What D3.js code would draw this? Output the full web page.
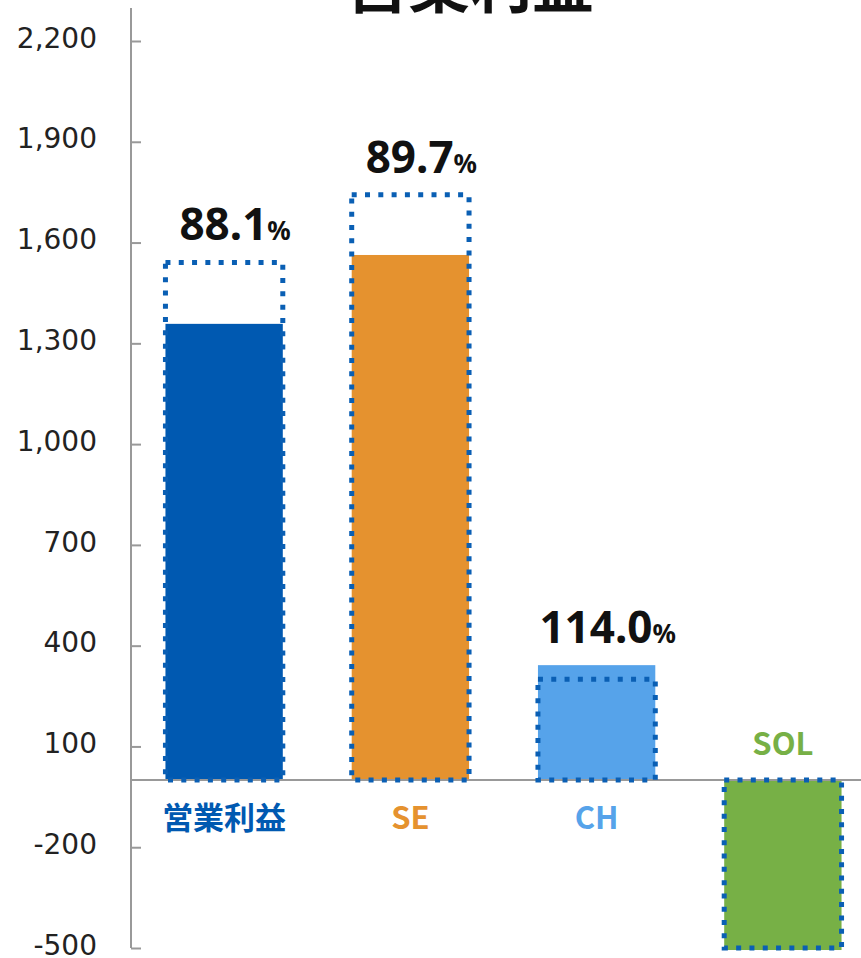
<!DOCTYPE html>
<html>
<head>
<meta charset="utf-8">
<script src="https://cdn.jsdelivr.net/npm/d3@7"></script>
<style>
  body { margin: 0; background: #fff; }
  svg { display: block; }
</style>
</head>
<body>
<div id="viz"></div>
<script>
// data
const categories = ["営業利益", "SE", "CH", "SOL"];
const actual = [1358, 1563, 342, -506];
const plan = [1541, 1742, 300, -500];
const achieve = ["88.1", "89.7", "114.0", null];
const tickValues = [2200, 1900, 1600, 1300, 1000, 700, 400, 100, -200, -500];

const colors = ["#0059b1", "#e5922f", "#56a3ea", "#77b046"];
const dotBlue = "#0a5fb4";

const W = 861, H = 958;
const axisX = 131;

const svg = d3.select("#viz")
    .append("svg")
    .attr("width", W)
    .attr("height", H);

const y = d3.scaleLinear()
    .domain([-500, 2200])
    .range([948, 41]);

const x = d3.scaleBand()
    .domain(categories)
    .range([axisX, 876])
    .paddingInner(0.37)
    .paddingOuter(0.185);

// title (cut at top)
svg.append("text")
    .attr("x", 470)
    .attr("y", 8)
    .attr("text-anchor", "middle")
    .attr("font-family", "'Noto Sans CJK JP', sans-serif")
    .attr("font-weight", 700)
    .attr("font-size", 62)
    .attr("fill", "#111")
    .text("営業利益");

// y axis
const yAxis = svg.append("g")
    .attr("transform", `translate(${axisX},0)`)
    .call(d3.axisLeft(y)
        .tickValues(tickValues)
        .tickFormat(d3.format(","))
        .tickSizeInner(-10)
        .tickSizeOuter(0)
        .tickPadding(34));

yAxis.select(".domain").remove();
yAxis.selectAll(".tick line")
    .attr("stroke", "#999")
    .attr("stroke-width", 2);
yAxis.selectAll(".tick text")
    .attr("dy", "0.22em")
    .attr("font-family", "'DejaVu Sans', sans-serif")
    .attr("font-size", 28)
    .attr("fill", "#222")
    .text(d => d < 0 ? "-" + d3.format(",")(-d) : d3.format(",")(d));

svg.append("line")
    .attr("x1", axisX).attr("x2", axisX)
    .attr("y1", 8).attr("y2", y(-500))
    .attr("stroke", "#999")
    .attr("stroke-width", 2);

// bars
const rows = categories.map((c, i) => ({
    cat: c, actual: actual[i], plan: plan[i], pct: achieve[i], color: colors[i]
}));

svg.selectAll(".bar")
    .data(rows)
    .enter().append("rect")
    .attr("class", "bar")
    .attr("x", d => x(d.cat))
    .attr("width", x.bandwidth())
    .attr("y", d => y(Math.max(0, d.actual)))
    .attr("height", d => Math.abs(y(d.actual) - y(0)))
    .attr("fill", d => d.color);

// zero line
svg.append("line")
    .attr("x1", axisX).attr("x2", W)
    .attr("y1", y(0)).attr("y2", y(0))
    .attr("stroke", "#999")
    .attr("stroke-width", 2);

// plan boxes (dotted)
svg.selectAll(".plan")
    .data(rows)
    .enter().append("rect")
    .attr("class", "plan")
    .attr("x", d => x(d.cat))
    .attr("width", x.bandwidth())
    .attr("y", d => y(Math.max(0, d.plan)))
    .attr("height", d => Math.abs(y(d.plan) - y(0)))
    .attr("fill", "none")
    .attr("stroke", dotBlue)
    .attr("stroke-width", 5)
    .attr("stroke-dasharray", "5 8.3");

// achievement labels
const pctLabel = svg.selectAll(".pct")
    .data(rows.filter(d => d.pct))
    .enter().append("text")
    .attr("class", "pct")
    .attr("x", d => x(d.cat) + x.bandwidth() / 2 + 11)
    .attr("y", d => y(Math.max(d.actual, d.plan)) - 22)
    .attr("text-anchor", "middle")
    .attr("font-family", "'Noto Sans', sans-serif")
    .attr("font-weight", 700)
    .attr("fill", "#111");

pctLabel.append("tspan")
    .attr("font-size", 44)
    .text(d => d.pct);
pctLabel.append("tspan")
    .attr("font-size", 26)
    .text("%");

// category labels
svg.selectAll(".cat")
    .data(rows)
    .enter().append("text")
    .attr("class", "cat")
    .attr("x", d => x(d.cat) + x.bandwidth() / 2)
    .attr("y", d => d.actual < 0 ? y(0) - 25 : y(0) + 49)
    .attr("text-anchor", "middle")
    .attr("font-family", "'Noto Sans CJK JP', sans-serif")
    .attr("font-weight", 700)
    .attr("font-size", 31)
    .attr("fill", d => d.color)
    .text(d => d.cat);
</script>
</body>
</html>
